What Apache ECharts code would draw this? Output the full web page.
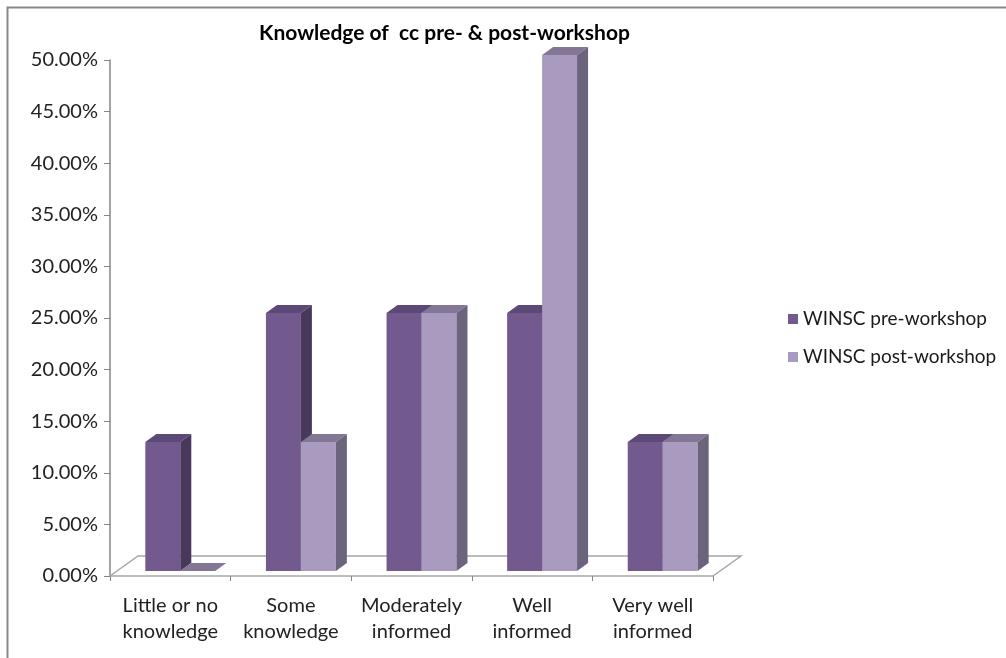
<!DOCTYPE html>
<html>
<head>
<meta charset="utf-8">
<title>Knowledge of cc pre- & post-workshop</title>
<script src="https://cdn.jsdelivr.net/npm/echarts@6/dist/echarts.min.js"></script>
<style>
  html, body { margin: 0; padding: 0; background: #fff; }
  #chart { width: 1006px; height: 658px; }
</style>
</head>
<body>
<div id="chart"></div>
<script>
// data
var categories = ['Little or no\nknowledge', 'Some\nknowledge', 'Moderately\ninformed', 'Well\ninformed', 'Very well\ninformed'];
var seriesNames = ['WINSC pre-workshop', 'WINSC post-workshop'];
var preValues = [0.125, 0.25, 0.25, 0.25, 0.125];
var postValues = [0, 0.125, 0.25, 0.5, 0.125];

// fake 3D look (pixels)
var FLOOR_DX = 28, FLOOR_DY = -20;   // depth of the floor
var FRONT_DX = 10, FRONT_DY = -5;    // where the bar fronts sit
var SIDE_DX = 11, SIDE_DY = -8;      // bar thickness
var BAR_RATIO = 0.29;                // bar width / category width

var faces = [
  { front: '#725a8e', top: '#5d4977', side: '#47385c' },
  { front: '#a99bbf', top: '#837795', side: '#6b647c' }
];

var font = 'Lato, "Noto Sans", sans-serif';

function renderBar(params, api) {
  var idx = api.value(0), val = api.value(1);
  var top = api.coord([idx, val]);
  var base = api.coord([idx, 0]);
  var w = api.size([1, 0])[0] * BAR_RATIO;
  var cx = top[0] + FRONT_DX;
  var x0 = params.seriesIndex === 1 ? cx - w : cx;
  var x1 = x0 + w;
  var yT = top[1] + FRONT_DY, yB = base[1] + FRONT_DY;
  var c = faces[params.seriesIndex - 1];
  return {
    type: 'group',
    children: [
      { type: 'rect', shape: { x: x0, y: yT, width: w, height: yB - yT }, style: { fill: c.front } },
      { type: 'polygon', shape: { points: [[x0, yT], [x1, yT], [x1 + SIDE_DX, yT + SIDE_DY], [x0 + SIDE_DX, yT + SIDE_DY]] }, style: { fill: c.top } },
      { type: 'polygon', shape: { points: [[x1, yT], [x1 + SIDE_DX, yT + SIDE_DY], [x1 + SIDE_DX, yB + SIDE_DY], [x1, yB]] }, style: { fill: c.side } }
    ]
  };
}

// floor outline behind the bars
function renderFloor(params, api) {
  var cs = params.coordSys;
  var y0 = api.coord([0, 0])[1];
  var xl = cs.x, xr = cs.x + cs.width;
  return {
    type: 'polyline',
    shape: { points: [[xl, y0], [xl + FLOOR_DX, y0 + FLOOR_DY], [xr + FLOOR_DX, y0 + FLOOR_DY], [xr, y0]] },
    style: { stroke: '#a6a6a6', lineWidth: 1.5, fill: null }
  };
}

var chart = echarts.init(document.getElementById('chart'));
chart.setOption({
  backgroundColor: '#fff',
  textStyle: { fontFamily: font },
  animation: false,
  graphic: [{
    type: 'rect',
    shape: { x: 7.5, y: 7.5, width: 1100, height: 700 },
    style: { stroke: '#878787', lineWidth: 2, fill: null },
    silent: true
  }],
  title: {
    text: 'Knowledge of  cc pre- & post-workshop',
    left: 254,
    top: 18,
    textStyle: { fontFamily: font, fontSize: 21, fontWeight: 'bold', color: '#000' }
  },
  legend: {
    orient: 'vertical',
    left: 783,
    top: 303,
    icon: 'rect',
    itemWidth: 10,
    itemHeight: 10,
    itemGap: 16,
    data: seriesNames,
    textStyle: { fontFamily: font, fontSize: 19, lineHeight: 22, color: '#1a1a1a' }
  },
  grid: { left: 110, right: 293, top: 60, bottom: 82, containLabel: false },
  xAxis: {
    type: 'category',
    data: categories,
    axisLine: { lineStyle: { color: '#a6a6a6', width: 1.5 } },
    axisTick: { show: true, interval: 0, length: 5, lineStyle: { color: '#868686' } },
    axisLabel: { interval: 0, fontFamily: font, fontSize: 20, lineHeight: 26, color: '#222', margin: 17 }
  },
  yAxis: {
    type: 'value',
    min: 0,
    max: 0.5,
    interval: 0.05,
    axisLine: { show: true, lineStyle: { color: '#868686', width: 1.5 } },
    axisTick: { show: true, length: 6, lineStyle: { color: '#868686' } },
    splitLine: { show: false },
    axisLabel: {
      fontFamily: font, fontSize: 20, color: '#222', margin: 12,
      formatter: function (v) { return (v * 100).toFixed(2) + '%'; }
    }
  },
  series: [
    { type: 'custom', name: 'floor', z: 1, silent: true, renderItem: renderFloor, data: [[0, 0]] },
    {
      type: 'custom', name: seriesNames[0], renderItem: renderBar,
      itemStyle: { color: faces[0].front },
      encode: { x: 0, y: 1 },
      data: preValues.map(function (v, i) { return [i, v]; })
    },
    {
      type: 'custom', name: seriesNames[1], renderItem: renderBar,
      itemStyle: { color: faces[1].front },
      encode: { x: 0, y: 1 },
      data: postValues.map(function (v, i) { return [i, v]; })
    }
  ]
});
</script>
</body>
</html>
